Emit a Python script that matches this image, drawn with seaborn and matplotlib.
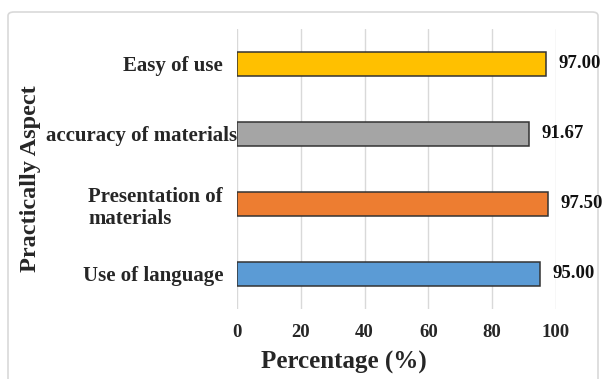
import matplotlib
matplotlib.use("Agg")
import matplotlib.pyplot as plt
import matplotlib.transforms as mtransforms
from matplotlib.patches import FancyBboxPatch
import seaborn as sns
import pandas as pd

categories = ["Easy of use", "accuracy of materials", "Presentation of\nmaterials", "Use of language"]
values = [97.00, 91.67, 97.50, 95.00]
colors = ["#FFC000", "#A5A5A5", "#ED7D31", "#5B9BD5"]
x_ticks = [0, 20, 40, 60, 80, 100]

sns.set_theme(style="white")
plt.rcParams["font.family"] = ["Liberation Serif", "DejaVu Serif"]

W, H = 607, 379
fig = plt.figure(figsize=(W / 100, H / 100), dpi=100)
ax = fig.add_axes([237 / W, 1 - 309 / H, 319 / W, 280 / H])

df = pd.DataFrame({"aspect": categories, "pct": values})
sns.barplot(data=df, x="pct", y="aspect", hue="aspect", palette=colors,
            saturation=1, orient="h", width=0.35, edgecolor="#333333",
            linewidth=1.1, legend=False, ax=ax, zorder=3)

ax.set_xlim(0, 100)
ax.set_ylim(3.5, -0.5)
ax.set_xticks(x_ticks)
ax.set_xticklabels([str(t) for t in x_ticks], fontsize=13.5, fontweight="bold")
ax.tick_params(axis="x", length=0, pad=11)
ax.tick_params(axis="y", length=0, pad=10)
for lbl in ax.get_yticklabels():
    lbl.set_fontsize(15)
    lbl.set_fontweight("bold")
    if "\n" in lbl.get_text():
        lbl.set_multialignment("left")
    if lbl.get_text().startswith("accuracy"):
        lbl.set_transform(lbl.get_transform() +
                          mtransforms.ScaledTranslation(14 / 100, 0, fig.dpi_scale_trans))

ax.grid(axis="x", color="#d9d9d9", linewidth=1.0, zorder=0)
ax.grid(axis="y", visible=False)
for s in ax.spines.values():
    s.set_visible(False)

ax.set_xlabel("")
ax.set_ylabel("")

for i, v in enumerate(values):
    ax.annotate(f"{v:.2f}", xy=(v, i), xytext=(12, 0), textcoords="offset pixels",
                ha="left", va="center", fontsize=13.5, fontweight="bold",
                color="#111111", annotation_clip=False)

fig.text(344 / W, 1 - 362 / H, "Percentage (%)", ha="center", va="center",
         fontsize=18, fontweight="bold")
fig.text(31 / W, 1 - 179 / H, "Practically Aspect", ha="center", va="center",
         rotation=90, fontsize=17.5, fontweight="bold")

# chart-area frame; its lower edge runs past the bottom of the canvas
border = FancyBboxPatch((8 / W, 1 - 390 / H), 590 / W, 378 / H,
                        boxstyle="round,pad=0,rounding_size=0.01",
                        transform=fig.transFigure, facecolor="none",
                        edgecolor="#d9d9d9", linewidth=1.2, zorder=-1)
fig.patches.append(border)

fig.savefig("out.png", dpi=100)
